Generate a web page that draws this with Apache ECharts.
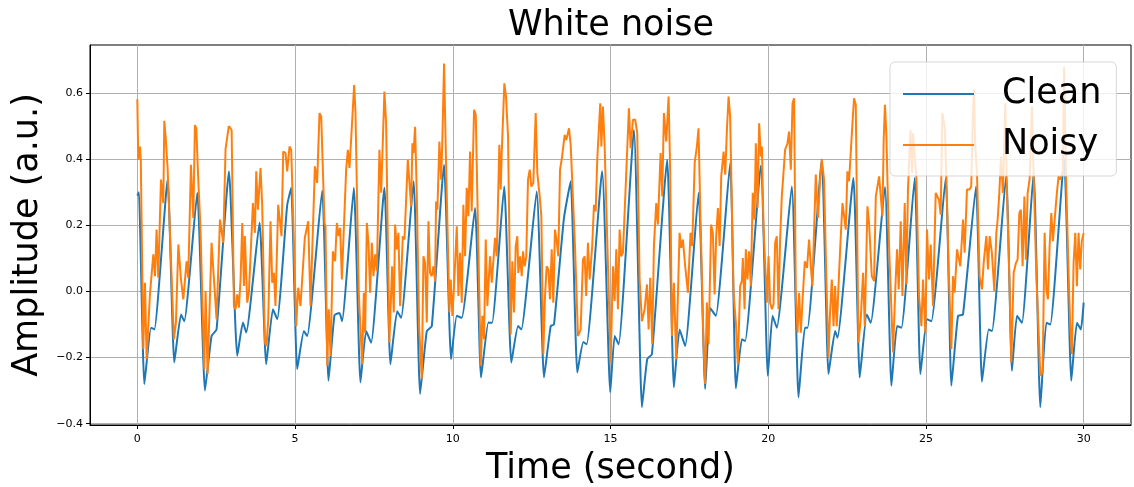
<!DOCTYPE html>
<html>
<head>
<meta charset="utf-8">
<script src="https://cdn.jsdelivr.net/npm/echarts@6/dist/echarts.min.js"></script>
<style>
html,body{margin:0;padding:0;background:#fff;}
#chart{width:1134px;height:487px;}
</style>
</head>
<body>
<div id="chart"></div>
<script>
const seriesNames = ['Clean', 'Noisy'];
const xTicks = [0, 5, 10, 15, 20, 25, 30];
const yTicks = [-0.4, -0.2, 0.0, 0.2, 0.4, 0.6];

const cleanT = [0, 0.05, 0.222, 0.434, 0.54, 0.96, 1.172, 1.384, 1.489, 1.90, 2.144, 2.353, 2.512, 2.905, 3.168, 3.348, 3.453, 3.874, 4.086, 4.298, 4.435, 4.75, 4.878, 5.068, 5.28, 5.385, 5.86, 6.06, 6.25, 6.41, 6.49, 6.864, 7.073, 7.254, 7.412, 7.833, 8.023, 8.236, 8.362, 8.758, 8.964, 9.176, 9.335, 9.724, 9.946, 10.127, 10.285, 10.706, 10.896, 11.128, 11.245, 11.63, 11.856, 12.068, 12.173, 12.66, 12.892, 13.104, 13.209, 13.525, 13.738, 13.947, 14.137, 14.245, 14.735, 14.992, 15.131, 15.258, 15.743, 15.996, 16.164, 16.313, 16.797, 17.009, 17.19, 17.367, 17.792, 18.001, 18.16, 18.34, 18.793, 18.974, 19.164, 19.268, 19.766, 19.987, 20.136, 20.272, 20.747, 20.96, 21.16, 21.245, 21.698, 21.91, 22.12, 22.195, 22.70, 22.90, 23.123, 23.25, 23.70, 23.905, 24.083, 24.222, 24.643, 24.824, 25.033, 25.172, 25.625, 25.806, 26.015, 26.174, 26.586, 26.775, 26.988, 27.092, 27.542, 27.726, 27.884, 28.043, 28.413, 28.625, 28.815, 28.942, 29.38, 29.607, 29.785, 29.912, 30.0];
const cleanV = [0.29, 0.30, -0.28, -0.11, -0.115, 0.338, -0.215, -0.07, -0.09, 0.298, -0.30, -0.135, -0.115, 0.363, -0.195, -0.094, -0.124, 0.208, -0.22, -0.054, -0.084, 0.26, 0.313, -0.235, -0.12, -0.135, 0.305, -0.27, -0.072, -0.065, -0.09, 0.313, -0.275, -0.12, -0.155, 0.313, -0.22, -0.06, -0.08, 0.333, -0.31, -0.12, -0.105, 0.383, -0.205, -0.074, -0.08, 0.252, -0.26, -0.094, -0.095, 0.317, -0.215, -0.105, -0.115, 0.302, -0.26, -0.105, -0.10, 0.222, 0.333, -0.245, -0.153, -0.16, 0.363, -0.305, -0.135, -0.16, 0.488, -0.35, -0.205, -0.19, 0.398, -0.29, -0.115, -0.165, 0.298, -0.295, -0.05, -0.074, 0.388, -0.293, -0.145, -0.15, 0.38, -0.255, -0.074, -0.11, 0.317, -0.32, -0.11, -0.11, 0.398, -0.25, -0.12, -0.14, 0.343, -0.26, -0.07, -0.095, 0.316, -0.285, -0.105, -0.11, 0.343, -0.25, -0.084, -0.09, 0.343, -0.285, -0.074, -0.07, 0.317, -0.273, -0.115, -0.12, 0.35, -0.24, -0.074, -0.095, 0.36, -0.35, -0.095, -0.10, 0.40, -0.27, -0.095, -0.115, -0.034];

const noisyPoints = [
[0,0.581],[0.03,0.398],[0.085,0.438],[0.11,0.398],[0.19,-0.175],[0.243,0.026],[0.295,-0.205],[0.40,-0.009],[0.45,-0.004],[0.507,0.112],[0.56,0.046],[0.61,0.187],[0.665,0.041],[0.75,0.338],[0.824,0.267],[0.855,0.516],[0.897,0.468],[0.96,0.373],[1.0,0.373],
[1.16,-0.145],[1.225,-0.094],[1.30,0.142],[1.384,0.036],[1.457,-0.024],[1.562,0.091],[1.615,0.041],[1.70,0.383],[1.774,0.222],[1.827,0.503],[1.87,0.493],[1.932,0.338],[2.0,0.197],
[2.122,-0.235],[2.164,0.001],[2.228,-0.25],[2.354,0.147],[2.512,-0.084],[2.62,0.217],[2.724,0.147],[2.797,0.43],[2.9,0.50],[2.99,0.488],
[3.062,-0.044],[3.115,-0.054],[3.168,-0.009],[3.22,-0.049],[3.273,0.036],[3.326,0.207],[3.38,0.016],[3.41,0.167],[3.484,-0.034],[3.537,-0.004],[3.665,0.267],[3.727,0.177],[3.77,0.363],[3.823,0.247],[3.906,0.373],[3.96,0.257],
[4.045,-0.155],[4.096,-0.165],[4.15,-0.084],[4.223,0.212],[4.276,0.026],[4.33,0.056],[4.38,-0.044],[4.466,0.262],[4.571,0.167],[4.625,0.423],[4.698,0.418],[4.751,0.363],[4.825,0.438],[4.878,0.428],[4.963,0.157],
[5.036,-0.105],[5.10,0.011],[5.173,-0.044],[5.31,0.162],[5.417,0.212],[5.49,-0.044],[5.629,0.378],[5.70,0.328],[5.775,0.539],[5.83,0.528],[5.934,0.207],[5.965,0.197],
[6.02,-0.225],[6.07,-0.054],[6.124,-0.195],[6.2,0.121],[6.27,0.091],[6.325,0.207],[6.38,0.167],[6.43,0.192],[6.484,0.036],[6.62,0.368],[6.674,0.428],[6.725,0.373],[6.78,0.463],[6.832,0.468],[6.874,0.624],[6.915,0.544],
[7.02,-0.004],[7.127,-0.22],[7.18,-0.004],[7.222,-0.125],[7.276,0.207],[7.327,0.147],[7.38,-0.004],[7.434,0.147],[7.485,0.046],[7.54,0.112],[7.593,0.061],[7.675,0.428],[7.73,0.298],[7.833,0.604],[7.887,0.508],
[7.99,-0.155],[8.077,0.076],[8.13,-0.064],[8.172,0.202],[8.226,0.127],[8.277,0.177],[8.33,-0.044],[8.416,0.167],[8.468,0.157],[8.575,0.398],[8.68,0.257],[8.72,0.448],[8.755,0.418],[8.806,0.498],[8.86,0.287],
[8.933,-0.105],[9.018,-0.265],[9.07,0.106],[9.123,0.086],[9.176,-0.094],[9.228,0.212],[9.28,0.056],[9.335,0.046],[9.386,0.076],[9.44,0.031],[9.47,0.272],[9.513,0.247],[9.576,0.453],[9.63,0.338],[9.67,0.458],[9.724,0.689],[9.778,0.428],
[9.893,-0.064],[9.936,0.036],[9.988,-0.074],[10.04,0.016],[10.127,0.197],[10.178,-0.014],[10.23,0.117],[10.285,-0.034],[10.336,0.262],[10.39,0.106],[10.443,0.313],[10.495,0.227],[10.548,0.423],[10.60,0.242],[10.675,0.549],[10.729,0.534],
[10.833,0.026],[10.887,-0.225],[10.938,-0.074],[10.991,-0.145],[11.045,0.157],[11.096,-0.044],[11.181,0.106],[11.236,0.026],[11.34,0.162],[11.394,0.106],[11.476,0.443],[11.52,0.308],[11.552,0.418],[11.635,0.629],[11.688,0.589],[11.752,0.468],
[11.837,-0.13],[11.888,0.091],[11.942,-0.064],[11.995,0.137],[12.046,0.167],[12.078,0.056],[12.132,0.106],[12.185,0.046],[12.227,0.121],[12.28,0.076],[12.33,0.106],[12.385,0.338],[12.44,0.368],[12.49,0.317],[12.553,0.328],[12.629,0.539],[12.68,0.358],[12.756,0.287],[12.808,0.227],
[12.87,-0.19],[12.924,-0.014],[12.977,0.076],[13.03,0.066],[13.082,-0.024],[13.136,0.127],[13.187,-0.034],[13.24,0.187],[13.295,0.152],[13.345,0.106],[13.40,0.368],[13.452,0.398],[13.503,0.398],[13.548,0.473],[13.598,0.458],[13.684,0.493],[13.738,0.443],[13.788,0.438],[13.874,0.137],
[13.969,-0.135],[14.054,-0.115],[14.127,0.096],[14.18,0.106],[14.23,-0.014],[14.285,0.147],[14.34,0.036],[14.42,0.137],[14.476,0.262],[14.53,0.242],[14.58,0.398],[14.635,0.498],[14.675,0.569],[14.71,0.438],[14.76,0.559],[14.815,0.438],
[14.92,0.076],[15.005,-0.215],[15.078,0.076],[15.13,-0.029],[15.183,0.127],[15.236,-0.054],[15.29,0.187],[15.34,0.106],[15.395,0.117],[15.448,0.112],[15.584,0.554],[15.638,0.433],[15.711,0.519],[15.784,0.519],[15.848,0.478],
[15.923,0.036],[15.996,-0.09],[16.082,-0.054],[16.155,0.021],[16.208,-0.115],[16.26,0.041],[16.323,-0.16],[16.376,0.137],[16.45,0.267],[16.503,0.202],[16.588,0.418],[16.64,0.287],[16.693,0.539],[16.767,0.453],[16.842,0.589],[16.893,0.358],
[16.946,-0.135],[17.01,0.026],[17.083,-0.205],[17.19,0.177],[17.24,0.132],[17.295,0.157],[17.368,0.076],[17.453,-0.004],[17.537,0.177],[17.59,0.137],[17.67,0.39],[17.738,0.438],[17.79,0.493],[17.843,0.257],
[17.95,-0.165],[18.0,-0.28],[18.055,-0.034],[18.11,-0.16],[18.19,0.202],[18.245,0.177],[18.3,-0.009],[18.35,0.167],[18.406,0.252],[18.46,0.137],[18.51,0.348],[18.586,0.423],[18.637,0.353],[18.69,0.488],[18.743,0.589],[18.793,0.528],
[18.9,-0.004],[18.974,-0.094],[19.037,-0.22],[19.11,0.016],[19.164,0.031],[19.195,0.101],[19.25,-0.054],[19.29,0.127],[19.343,0.036],[19.393,0.121],[19.447,0.016],[19.51,0.298],[19.565,0.217],[19.607,0.448],[19.66,0.252],[19.712,0.508],[19.766,0.408],[19.8,0.438],[19.85,0.197],
[19.956,-0.034],[20.01,0.106],[20.06,-0.034],[20.115,-0.054],[20.168,-0.039],[20.22,0.147],[20.272,0.167],[20.325,-0.054],[20.377,0.157],[20.43,0.287],[20.535,0.428],[20.61,0.448],[20.66,0.483],[20.716,0.368],[20.77,0.569],[20.82,0.584],
[20.874,-0.004],[20.928,-0.125],[20.98,-0.004],[21.033,-0.125],[21.086,-0.029],[21.16,0.091],[21.23,0.071],[21.295,0.157],[21.35,0.076],[21.40,0.016],[21.508,0.353],[21.58,0.222],[21.645,0.338],[21.698,0.398],[21.77,0.338],
[21.846,0.026],[21.91,-0.2],[21.96,-0.064],[22.015,0.036],[22.07,-0.105],[22.12,0.016],[22.173,-0.105],[22.246,0.056],[22.30,0.167],[22.354,0.267],[22.40,0.262],[22.458,0.187],[22.51,0.363],[22.562,0.333],[22.67,0.508],[22.72,0.584],[22.775,0.564],
[22.86,-0.155],[22.933,-0.084],[23.007,0.056],[23.06,-0.105],[23.145,0.257],[23.196,0.207],[23.283,0.046],[23.355,0.031],[23.41,0.287],[23.462,0.292],[23.515,0.348],[23.566,0.348],[23.62,0.227],[23.66,0.458],[23.70,0.564],[23.745,0.473],
[23.83,0.137],[23.956,-0.185],[24.032,0.016],[24.083,0.127],[24.137,0.006],[24.2,0.212],[24.255,-0.014],[24.327,0.267],[24.38,0.021],[24.43,0.308],[24.51,0.488],[24.56,0.358],[24.59,0.478],[24.697,0.343],
[24.78,-0.014],[24.856,-0.105],[24.907,0.036],[24.98,-0.125],[25.033,0.187],[25.096,0.036],[25.15,0.142],[25.224,-0.044],[25.31,0.298],[25.362,0.287],[25.413,0.277],[25.467,0.232],[25.52,0.539],[25.594,0.498],[25.65,0.338],
[25.723,0.056],[25.806,-0.175],[25.857,0.046],[25.91,-0.004],[25.985,0.127],[26.038,0.132],[26.09,0.076],[26.175,0.217],[26.226,0.117],[26.30,0.308],[26.38,0.308],[26.435,0.317],[26.487,0.519],[26.52,0.61],[26.56,0.45],[26.62,0.348],
[26.70,0.046],[26.775,0.006],[26.83,0.086],[26.914,0.167],[26.966,0.066],[27.02,0.167],[27.09,0.117],[27.168,0.001],[27.23,0.177],[27.273,0.217],[27.326,0.298],[27.377,0.408],[27.44,0.298],[27.515,0.57],[27.567,0.298],
[27.643,0.046],[27.706,-0.215],[27.78,0.056],[27.852,0.086],[27.906,0.096],[27.96,0.237],[28.01,0.247],[28.064,0.076],[28.12,0.287],[28.17,0.096],[28.223,0.298],[28.286,0.338],[28.36,0.559],[28.413,0.358],
[28.5,0.046],[28.573,-0.125],[28.625,-0.255],[28.698,-0.245],[28.762,0.177],[28.815,0.006],[28.866,-0.024],[28.92,0.137],[28.974,0.237],[29.025,0.152],[29.08,0.147],[29.15,0.298],[29.205,0.348],[29.26,0.338],[29.34,0.368],[29.38,0.679],[29.44,0.348],
[29.52,0.056],[29.574,-0.105],[29.626,-0.19],[29.68,0.086],[29.734,0.177],[29.785,0.016],[29.837,0.177],[29.89,0.066],[29.94,0.152],[30.0,0.177]
];

const FONT = 'DejaVu Sans';
const cleanData = cleanT.map((t, i) => [t, cleanV[i]]);

const chart = echarts.init(document.getElementById('chart'), null, {renderer: 'canvas'});
chart.setOption({
  animation: false,
  backgroundColor: '#fff',
  title: {
    text: 'White noise',
    left: 611, top: 8, textAlign: 'center', padding: 0,
    textStyle: {fontFamily: FONT, fontSize: 35, fontWeight: 'normal', color: '#000'}
  },
  legend: {
    data: seriesNames,
    orient: 'vertical',
    left: 890, top: 62,
    padding: [12, 15, 11, 13],
    backgroundColor: 'rgba(255,255,255,0.8)',
    borderColor: 'rgba(204,204,204,0.8)',
    borderWidth: 1,
    borderRadius: 5,
    icon: 'rect',
    itemWidth: 71, itemHeight: 2,
    itemGap: 11,
    textStyle: {fontFamily: FONT, fontSize: 35, color: '#000', lineHeight: 40, padding: [0, 0, 0, 23]}
  },
  grid: {left: 90, right: 3, top: 45, bottom: 62, containLabel: false, outerBoundsMode: 'none',
    show: true, borderColor: '#000', borderWidth: 1, backgroundColor: 'transparent'},
  xAxis: {
    type: 'value', min: -1.5, max: 31.5,
    name: 'Time (second)', nameLocation: 'middle', nameGap: 26,
    nameTextStyle: {fontFamily: FONT, fontSize: 35, color: '#000'},
    axisLine: {show: true, onZero: false, lineStyle: {color: '#000', width: 1}},
    axisTick: {show: true, inside: false, length: 4, customValues: xTicks, lineStyle: {color: '#000'}},
    axisLabel: {customValues: xTicks, fontFamily: FONT, fontSize: 11, color: '#000', margin: 9, formatter: v => String(v)},
    splitLine: {show: true, lineStyle: {color: '#b0b0b0', width: 1}}
  },
  yAxis: {
    type: 'value', min: -0.404, max: 0.745,
    name: 'Amplitude (a.u.)', nameLocation: 'middle', nameGap: 42,
    nameTextStyle: {fontFamily: FONT, fontSize: 35, color: '#000'},
    axisLine: {show: true, onZero: false, lineStyle: {color: '#000', width: 1}},
    axisTick: {show: true, inside: false, length: 4, customValues: yTicks, lineStyle: {color: '#000'}},
    axisLabel: {customValues: yTicks, fontFamily: FONT, fontSize: 11, color: '#000', margin: 7,
      formatter: v => v.toFixed(1).replace('-', '\u2212')},
    splitLine: {show: true, lineStyle: {color: '#b0b0b0', width: 1}}
  },
  series: [
    {name: seriesNames[0], type: 'line', data: cleanData, showSymbol: false, symbol: 'none', smooth: 0.15,
     lineStyle: {color: '#1f77b4', width: 2}, itemStyle: {color: '#1f77b4'}, z: 2},
    {name: seriesNames[1], type: 'line', data: noisyPoints, showSymbol: false, symbol: 'none',
     lineStyle: {color: '#ff7f0e', width: 2}, itemStyle: {color: '#ff7f0e'}, z: 3}
  ]
});
</script>
</body>
</html>
